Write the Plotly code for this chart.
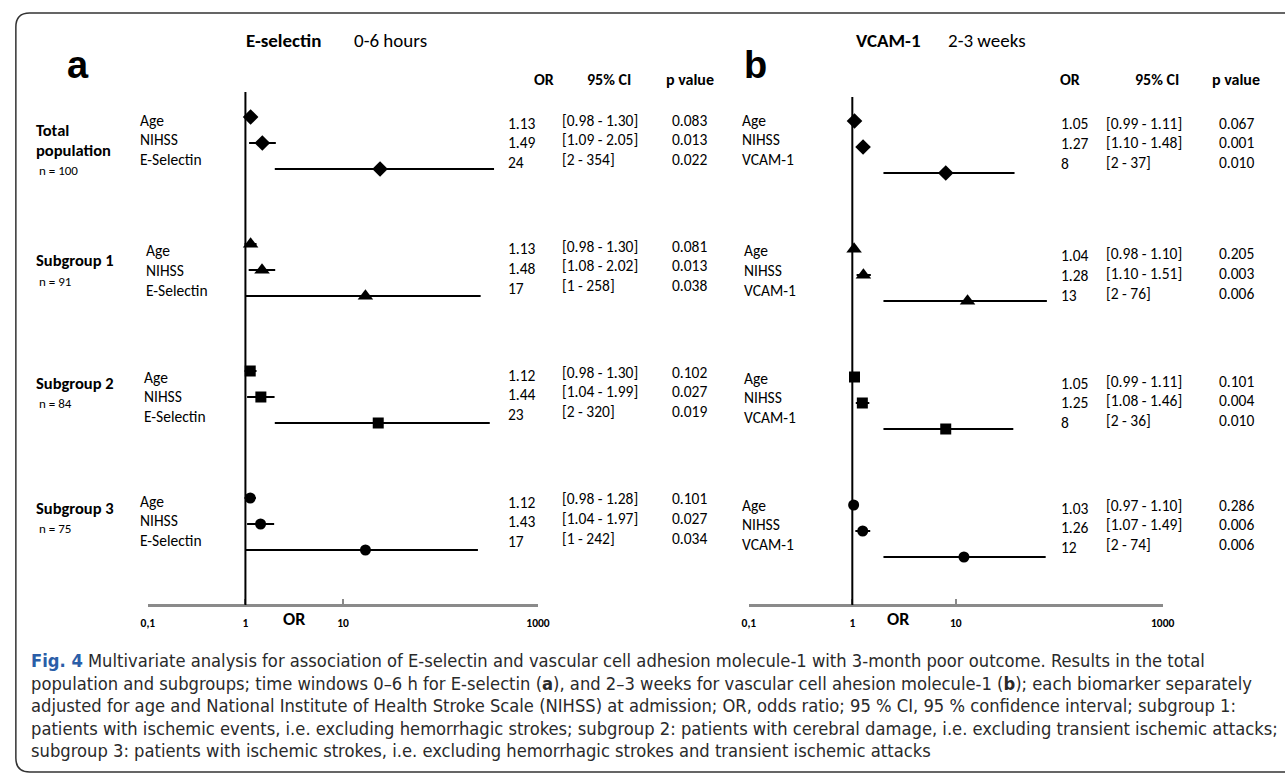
import plotly.graph_objects as go

W, H = 1285, 780

# ---------------- data ----------------
group_names = ["Total population", "Subgroup 1", "Subgroup 2", "Subgroup 3"]
group_n = [100, 91, 84, 75]
group_symbols = ["diamond", "triangle-up", "square", "circle"]

esel_vars = ["Age", "NIHSS", "E-Selectin"]
esel_or = [[1.13, 1.49, 24], [1.13, 1.48, 17], [1.12, 1.44, 23], [1.12, 1.43, 17]]
esel_lo = [[0.98, 1.09, 2], [0.98, 1.08, 1], [0.98, 1.04, 2], [0.98, 1.04, 1]]
esel_hi = [[1.30, 2.05, 354], [1.30, 2.02, 258], [1.30, 1.99, 320], [1.28, 1.97, 242]]
esel_p = [["0.083", "0.013", "0.022"], ["0.081", "0.013", "0.038"],
          ["0.102", "0.027", "0.019"], ["0.101", "0.027", "0.034"]]

vcam_vars = ["Age", "NIHSS", "VCAM-1"]
vcam_or = [[1.05, 1.27, 8], [1.04, 1.28, 13], [1.05, 1.25, 8], [1.03, 1.26, 12]]
vcam_lo = [[0.99, 1.10, 2], [0.98, 1.10, 2], [0.99, 1.08, 2], [0.97, 1.07, 2]]
vcam_hi = [[1.11, 1.48, 37], [1.10, 1.51, 76], [1.11, 1.46, 36], [1.10, 1.49, 74]]
vcam_p = [["0.067", "0.001", "0.010"], ["0.205", "0.003", "0.006"],
          ["0.101", "0.004", "0.010"], ["0.286", "0.006", "0.006"]]

tick_vals = [0.1, 1, 10, 1000]
tick_text = ["0,1", "1", "10", "1000"]
null_or = 1

caption_lines = [
    "Multivariate analysis for association of E-selectin and vascular cell adhesion molecule-1 with 3-month poor outcome. Results in the total",
    "population and subgroups; time windows 0–6 h for E-selectin (<b>a</b>), and 2–3 weeks for vascular cell ahesion molecule-1 (<b>b</b>); each biomarker separately",
    "adjusted for age and National Institute of Health Stroke Scale (NIHSS) at admission; OR, odds ratio; 95 % CI, 95 % confidence interval; subgroup 1:",
    "patients with ischemic events, i.e. excluding hemorrhagic strokes; subgroup 2: patients with cerebral damage, i.e. excluding transient ischemic attacks;",
    "subgroup 3: patients with ischemic strokes, i.e. excluding hemorrhagic strokes and transient ischemic attacks",
]

# ---------------- layout constants ----------------
FONT = "Carlito, Lato, sans-serif"
CAP_FONT = "Liberation Sans Narrow, DejaVu Sans Condensed, sans-serif"
AXIS_Y = 605
TXT = 15.5

panels = [
    dict(xa="x", ya="y", dom=(143, 539), title=("E-selectin", "0-6 hours"), title_x=(241, 350), letter="a", letter_x=72,
         vars=esel_vars, ors=esel_or, los=esel_lo, his=esel_hi, ps=esel_p,
         mk_top=117, mk_g=127, mk_r=26, vline_top=92,
         lab_x=[133, 139, 137, 133], lab_top=[120, 251, 377, 501],
         or_x=506, ci_x=561, p_x=673, or_top=[123, 249, 375, 502], ci_top=[120, 246, 372, 499],
         hdr=[545, 611, 693], or_lab=291),
    dict(xa="x2", ya="y2", dom=(753, 1173), title=("VCAM-1", "2-3 weeks"), title_x=(860, 953), letter="b", letter_x=760,
         vars=vcam_vars, ors=vcam_or, los=vcam_lo, his=vcam_hi, ps=vcam_p,
         mk_top=121, mk_g=128, mk_r=26, vline_top=97,
         lab_x=[744, 746, 746, 744], lab_top=[120, 251, 378, 505],
         or_x=1068, ci_x=1113, p_x=1228, or_top=[124, 256, 383, 508], ci_top=[123, 254, 381, 505],
         hdr=[1079, 1167, 1247], or_lab=904),
]

fig = go.Figure()


def add_text(x, y, text, size=TXT, anchor="left", color="black", family=FONT):
    fig.add_annotation(x=x / W, y=1 - y / H, xref="paper", yref="paper", text=text, showarrow=False,
                       xanchor=anchor, yanchor="middle",
                       font=dict(family=family, size=size, color=color))


def fmt(v, big):
    return f"{v:.0f}" if big else f"{v:.2f}"


marker_sizes = [12, 13.5, 11, 11]

for P in panels:
    for g in range(len(group_names)):
        ors = P["ors"][g]
        los = P["los"][g]
        his = P["his"][g]
        ys = [P["mk_top"] + g * P["mk_g"] + r * P["mk_r"] for r in range(3)]
        fig.add_trace(go.Scatter(
            x=ors, y=ys, xaxis=P["xa"], yaxis=P["ya"], mode="markers",
            marker=dict(symbol=group_symbols[g], size=marker_sizes[g], color="black"),
            error_x=dict(type="data", symmetric=False,
                         array=[h - o for h, o in zip(his, ors)],
                         arrayminus=[o - l for o, l in zip(ors, los)],
                         width=0, thickness=2, color="black"),
            showlegend=False, hoverinfo="skip"))
        for r, v in enumerate(P["vars"]):
            add_text(P["lab_x"][g], P["lab_top"][g] + r * 19.8, v)
            big = r == 2
            add_text(P["or_x"], P["or_top"][g] + r * 19.6, fmt(ors[r], big))
            add_text(P["ci_x"], P["ci_top"][g] + r * 19.6,
                     f"[{fmt(los[r], big)} - {fmt(his[r], big)}]")
            add_text(P["p_x"], P["ci_top"][g] + r * 19.6, P["ps"][g][r])

    # null line
    fig.add_shape(type="line", xref=P["xa"], yref=P["ya"], x0=null_or, x1=null_or,
                  y0=P["vline_top"], y1=AXIS_Y, line=dict(color="black", width=2))
    # titles / headers
    add_text(P["title_x"][0], 40, f"<b>{P['title'][0]}</b>", size=19)
    add_text(P["title_x"][1], 40, P["title"][1], size=19)
    add_text(P["letter_x"], 65, f"<b>{P['letter']}</b>", size=38, anchor="center",
             family="Liberation Sans, Arial, sans-serif")
    for hx, ht in zip(P["hdr"], ["OR", "95% CI", "p value"]):
        add_text(hx, 80, f"<b>{ht}</b>", size=16, anchor="center")
    add_text(P["or_lab"], 619, "<b>OR</b>", size=18, anchor="center")

# group labels (panel a)
add_text(27, 130, "<b>Total</b>", size=16.5)
add_text(27, 150, "<b>population</b>", size=16.5)
add_text(30, 170, f"n = {group_n[0]}", size=13)
for g, (ty, ny) in zip(range(1, 4), [(260, 281), (383, 403), (508, 528)]):
    add_text(27, ty, f"<b>{group_names[g]}</b>", size=16.5)
    add_text(30, ny, f"n = {group_n[g]}", size=13)

# caption
cap_y = [660, 683, 705, 728, 750]
for i, (line, yy) in enumerate(zip(caption_lines, cap_y)):
    t = line
    if i == 0:
        t = '<b><span style="color:#2a5ea8">Fig. 4</span></b> ' + line
    add_text(22, yy, t, size=18.2, color="#2a2a2a", family=CAP_FONT)


# rounded border (pixels -> paper)
def P_(x, y):
    return f"{x / W:.5f},{1 - y / H:.5f}"


L, T, R, B, rad = 9, 13, 1300, 772, 14
path = (f"M {P_(R, T)} L {P_(L + rad, T)} Q {P_(L, T)} {P_(L, T + rad)} "
        f"L {P_(L, B - rad)} Q {P_(L, B)} {P_(L + rad, B)} L {P_(R, B)}")
fig.add_shape(type="path", xref="paper", yref="paper", path=path, line=dict(color="#333333", width=1.5))

axis_common = dict(type="log", range=[-1, 3], showgrid=False, zeroline=False, showline=True,
                   linecolor="#8a8a8a", linewidth=3, ticks="inside", ticklen=5, tickwidth=2,
                   tickcolor="#8a8a8a", tickvals=tick_vals, ticktext=tick_text,
                   tickfont=dict(family=FONT, size=11.5, color="black", weight="bold"),
                   ticklabelstandoff=6, anchor="free", position=1 - AXIS_Y / H, fixedrange=True)
yaxis_common = dict(range=[H, 0], domain=[0, 1], visible=False, fixedrange=True)

fig.update_layout(
    width=W, height=H, margin=dict(l=0, r=0, t=0, b=0),
    paper_bgcolor="white", plot_bgcolor="rgba(0,0,0,0)",
    xaxis=dict(domain=[panels[0]["dom"][0] / W, panels[0]["dom"][1] / W], **axis_common),
    xaxis2=dict(domain=[panels[1]["dom"][0] / W, panels[1]["dom"][1] / W], **axis_common),
    yaxis=dict(anchor="x", **yaxis_common),
    yaxis2=dict(anchor="x2", **yaxis_common),
)

fig.write_html("out.html", config={"displayModeBar": False},
               post_script="document.body.style.margin='0';")
